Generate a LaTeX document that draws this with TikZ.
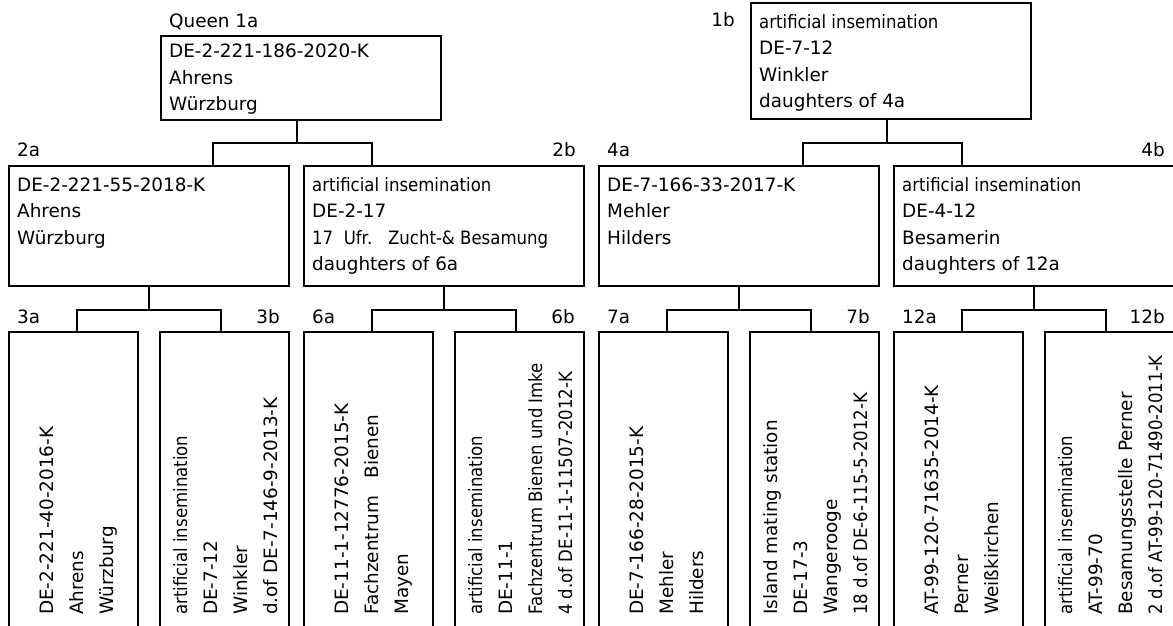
\documentclass[tikz,border=0pt]{standalone}
\usepackage{fontspec}
\setmainfont{DejaVu Sans}
\newfontfamily\narrowfont{DejaVu Sans}[FakeStretch=0.9]
\newcommand\cnd[1]{{\narrowfont #1}}
\begin{document}
\begin{tikzpicture}[x=1pt,y=-1pt,
    box/.style={draw,line width=1.3pt,inner sep=0pt,outer sep=0pt,anchor=north west,minimum width=280,minimum height=120},
    tall/.style={box,minimum width=129,minimum height=300},
    txt/.style={inner sep=0pt,anchor=north west,align=left,font=\fontsize{18.4}{26.5}\selectfont},
    vtxt/.style={inner sep=0pt,anchor=base west,rotate=90,align=left,font=\fontsize{18.4}{30}\selectfont},
    tag/.style={inner sep=0pt,font=\fontsize{18.4}{22}\selectfont},
    link/.style={line width=1.3pt}]
\useasboundingbox (0,0) rectangle (1173,626);
\clip (0,0) rectangle (1173,626);
% top row
\node[box,minimum height=84] (n1a) at (161,36) {};
\node[box,minimum height=116] (n1b) at (751,3) {};
\node[tag,anchor=base west] at ([shift={(8,-8)}]n1a.north west) {Queen 1a};
\node[tag,anchor=base east] at ([shift={(-16,24)}]n1b.north west) {1b};
\node[txt] at ([shift={(8,8)}]n1a.north west) {DE-2-221-186-2020-K\\Ahrens\\Würzburg};
\node[txt] at ([shift={(8,11)}]n1b.north west) {\cnd{artificial insemination}\\DE-7-12\\Winkler\\daughters of 4a};
% second row
\node[box] (n2a) at (9,166) {};
\node[box] (n2b) at (304,166) {};
\node[box] (n4a) at (599,166) {};
\node[box] (n4b) at (894,166) {};
\node[tag,anchor=base west] at ([shift={(8,-10)}]n2a.north west) {2a};
\node[tag,anchor=base east] at ([shift={(-8,-10)}]n2b.north east) {2b};
\node[tag,anchor=base west] at ([shift={(8,-10)}]n4a.north west) {4a};
\node[tag,anchor=base east] at ([shift={(-9,-10)}]n4b.north east) {4b};
\node[txt] at ([shift={(8,11.5)}]n2a.north west) {DE-2-221-55-2018-K\\Ahrens\\Würzburg};
\node[txt] at ([shift={(8,11)}]n2b.north west) {\cnd{artificial insemination}\\DE-2-17\\\cnd{17\ \ Ufr.\ \ \ Zucht-\& Besamung}\\daughters of 6a};
\node[txt] at ([shift={(8,11.5)}]n4a.north west) {DE-7-166-33-2017-K\\Mehler\\Hilders};
\node[txt] at ([shift={(8,11)}]n4b.north west) {\cnd{artificial insemination}\\DE-4-12\\Besamerin\\daughters of 12a};
\draw[link] ([xshift=-4]n1a.south) -- ++(0,23) -| ([xshift=204]n2a.north west);
\draw[link] ([xshift=-4]n1a.south) ++(0,23) -| ([xshift=68]n2b.north west);
\draw[link] ([xshift=-4]n1b.south) -- ++(0,24) -| ([xshift=204]n4a.north west);
\draw[link] ([xshift=-4]n1b.south) ++(0,24) -| ([xshift=68]n4b.north west);
% bottom row
\node[tall] (n3a) at (9,332) {};
\node[tall] (n3b) at (160,332) {};
\node[tall] (n6a) at (304,332) {};
\node[tall] (n6b) at (455,332) {};
\node[tall] (n7a) at (599,332) {};
\node[tall] (n7b) at (750,332) {};
\node[tall] (n12a) at (894,332) {};
\node[tall] (n12b) at (1045,332) {};
\node[tag,anchor=base west] at ([shift={(8,-9)}]n3a.north west) {3a};
\node[tag,anchor=base east] at ([shift={(-9,-9)}]n3b.north east) {3b};
\node[tag,anchor=base west] at ([shift={(8,-9)}]n6a.north west) {6a};
\node[tag,anchor=base east] at ([shift={(-9,-9)}]n6b.north east) {6b};
\node[tag,anchor=base west] at ([shift={(8,-9)}]n7a.north west) {7a};
\node[tag,anchor=base east] at ([shift={(-9,-9)}]n7b.north east) {7b};
\node[tag,anchor=base west] at ([shift={(8,-9)}]n12a.north west) {12a};
\node[tag,anchor=base east] at ([shift={(-9,-9)}]n12b.north east) {12b};
% rotated texts, placed by the baseline of their last line
\node[vtxt] at ([shift={(104,283)}]n3a.north west) {DE-2-221-40-2016-K\\Ahrens\\Würzburg};
\node[vtxt] at ([shift={(117,283)}]n3b.north west) {\cnd{artificial insemination}\\DE-7-12\\Winkler\\d.of DE-7-146-9-2013-K};
\node[vtxt] at ([shift={(104,283)}]n6a.north west) {DE-11-1-12776-2015-K\\Fachzentrum\ \ \ Bienen\\Mayen};
\node[vtxt] at ([shift={(117,283)}]n6b.north west) {\cnd{artificial insemination}\\DE-11-1\\\cnd{Fachzentrum Bienen und Imke}\\\cnd{4 d.of DE-11-1-11507-2012-K}};
\node[vtxt] at ([shift={(104,283)}]n7a.north west) {DE-7-166-28-2015-K\\Mehler\\Hilders};
\node[vtxt] at ([shift={(117,283)}]n7b.north west) {Island mating station\\DE-17-3\\Wangerooge\\\cnd{18 d.of DE-6-115-5-2012-K}};
\node[vtxt] at ([shift={(104,283)}]n12a.north west) {AT-99-120-71635-2014-K\\Perner\\Weißkirchen};
\node[vtxt] at ([shift={(117,283)}]n12b.north west) {\cnd{artificial insemination}\\AT-99-70\\Besamungsstelle Perner\\\cnd{2 d.of AT-99-120-71490-2011-K}};
\draw[link] (n2a.south) -- ++(0,24) -| ([xshift=68]n3a.north west);
\draw[link] (n2a.south) ++(0,24) -| ([xshift=61]n3b.north west);
\draw[link] (n2b.south) -- ++(0,24) -| ([xshift=68]n6a.north west);
\draw[link] (n2b.south) ++(0,24) -| ([xshift=61]n6b.north west);
\draw[link] (n4a.south) -- ++(0,24) -| ([xshift=68]n7a.north west);
\draw[link] (n4a.south) ++(0,24) -| ([xshift=61]n7b.north west);
\draw[link] (n4b.south) -- ++(0,24) -| ([xshift=68]n12a.north west);
\draw[link] (n4b.south) ++(0,24) -| ([xshift=61]n12b.north west);
\end{tikzpicture}
\end{document}
